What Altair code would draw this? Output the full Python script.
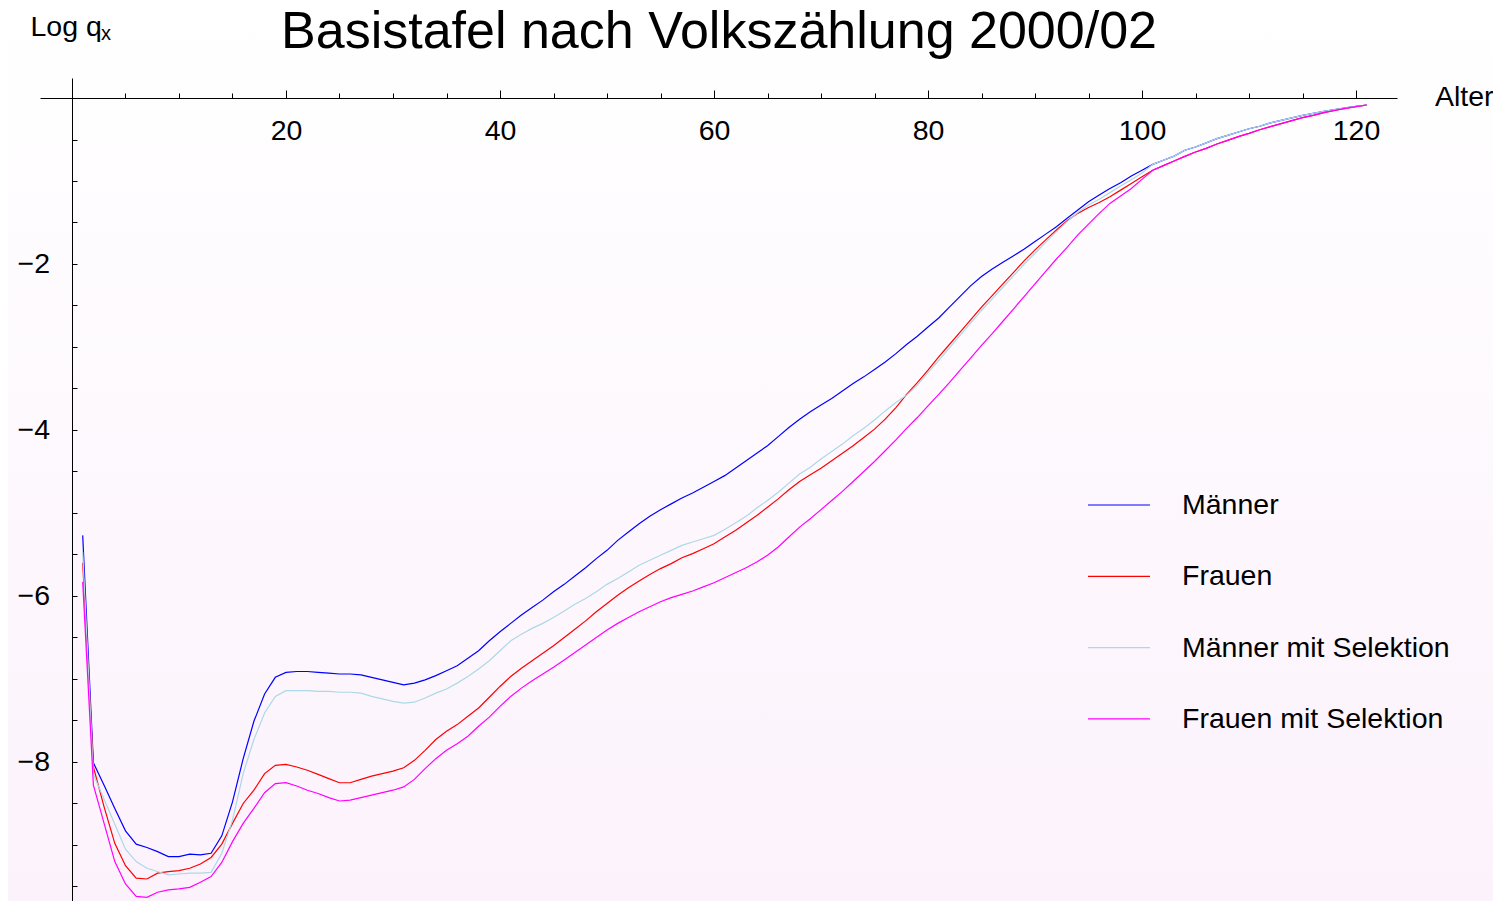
import altair as alt
import pandas as pd

chart_title = "Basistafel nach Volkszählung 2000/02"
x_title = "Alter"
y_title_main = "Log q"
y_title_sub = "x"

ages = list(range(1, 122))

maenner = [
    -5.27, -8.01, -8.28, -8.56, -8.83, -8.99, -9.03, -9.08, -9.14, -9.14,
    -9.11, -9.12, -9.10, -8.89, -8.48, -7.96, -7.51, -7.18, -6.98, -6.92,
    -6.91, -6.91, -6.92, -6.93, -6.94, -6.94, -6.95, -6.98, -7.01, -7.04,
    -7.07, -7.05, -7.01, -6.96, -6.90, -6.84, -6.75, -6.66, -6.54, -6.43,
    -6.33, -6.23, -6.14, -6.05, -5.95, -5.86, -5.76, -5.66, -5.55, -5.45,
    -5.33, -5.23, -5.13, -5.04, -4.96, -4.89, -4.82, -4.76, -4.69, -4.62,
    -4.55, -4.46, -4.37, -4.28, -4.19, -4.08, -3.97, -3.87, -3.78, -3.70,
    -3.62, -3.53, -3.44, -3.36, -3.27, -3.18, -3.08, -2.97, -2.87, -2.76,
    -2.65, -2.52, -2.39, -2.26, -2.15, -2.06, -1.98, -1.90, -1.82, -1.73,
    -1.64, -1.55, -1.45, -1.35, -1.25, -1.17, -1.09, -1.02, -0.94, -0.87,
    -0.80, -0.75, -0.70, -0.63, -0.59, -0.54, -0.49, -0.45, -0.41, -0.37,
    -0.34, -0.30, -0.27, -0.24, -0.21, -0.185, -0.16, -0.14, -0.12, -0.10,
    -0.084,
]

maenner_sel = [
    -5.47, -8.15, -8.45, -8.75, -9.05, -9.20, -9.28, -9.32, -9.36, -9.35,
    -9.34, -9.34, -9.33, -9.10, -8.70, -8.14, -7.73, -7.41, -7.21, -7.14,
    -7.14, -7.14, -7.15, -7.15, -7.16, -7.16, -7.17, -7.21, -7.24, -7.27,
    -7.29, -7.28, -7.23, -7.17, -7.12, -7.05, -6.97, -6.88, -6.78, -6.66,
    -6.54, -6.46, -6.39, -6.33, -6.26, -6.18, -6.10, -6.03, -5.95, -5.86,
    -5.79, -5.71, -5.63, -5.57, -5.51, -5.45, -5.39, -5.35, -5.31, -5.27,
    -5.20, -5.12, -5.04, -4.94, -4.85, -4.75, -4.64, -4.53, -4.45, -4.35,
    -4.26, -4.17, -4.07, -3.98, -3.88, -3.77, -3.67, -3.58, -3.46, -3.31,
    -3.16, -3.01, -2.86, -2.71, -2.56, -2.42, -2.28, -2.14, -2.00, -1.87,
    -1.74, -1.61, -1.49, -1.38, -1.29, -1.22, -1.14, -1.06, -0.985, -0.905,
    -0.80, -0.75, -0.70, -0.63, -0.59, -0.54, -0.49, -0.45, -0.41, -0.37,
    -0.34, -0.30, -0.27, -0.24, -0.21, -0.185, -0.16, -0.14, -0.12, -0.10,
    -0.084,
]

frauen = [
    -5.60, -8.06, -8.54, -8.98, -9.25, -9.40, -9.41, -9.34, -9.32, -9.31,
    -9.28, -9.23, -9.15, -8.99, -8.74, -8.50, -8.34, -8.14, -8.04, -8.03,
    -8.06, -8.10, -8.15, -8.20, -8.25, -8.25, -8.21, -8.17, -8.14, -8.11,
    -8.07, -7.98, -7.86, -7.73, -7.63, -7.55, -7.45, -7.35, -7.22, -7.09,
    -6.97, -6.87, -6.78, -6.69, -6.60, -6.50, -6.40, -6.30, -6.19, -6.09,
    -5.99, -5.90, -5.82, -5.74, -5.67, -5.61, -5.54, -5.49, -5.43, -5.37,
    -5.29, -5.21, -5.12, -5.03, -4.93, -4.83, -4.72, -4.62, -4.54, -4.46,
    -4.37, -4.28, -4.19, -4.09, -3.99, -3.87, -3.73, -3.57, -3.43, -3.28,
    -3.12, -2.97, -2.82, -2.67, -2.52, -2.38, -2.24, -2.10, -1.96, -1.83,
    -1.71, -1.59, -1.48, -1.39, -1.32, -1.26, -1.19, -1.11, -1.03, -0.95,
    -0.871, -0.815, -0.759, -0.703, -0.651, -0.607, -0.554, -0.510, -0.466, -0.426,
    -0.382, -0.345, -0.309, -0.273, -0.237, -0.209, -0.177, -0.149, -0.124, -0.104,
    -0.084,
]

frauen_sel = [
    -5.83, -8.28, -8.74, -9.20, -9.47, -9.62, -9.63, -9.57, -9.54, -9.53,
    -9.51, -9.45, -9.38, -9.21, -8.96, -8.74, -8.56, -8.37, -8.26, -8.25,
    -8.29, -8.34, -8.38, -8.43, -8.47, -8.46, -8.43, -8.40, -8.37, -8.34,
    -8.30, -8.21, -8.08, -7.96, -7.86, -7.78, -7.69, -7.57, -7.46, -7.33,
    -7.21, -7.11, -7.02, -6.94, -6.86, -6.77, -6.68, -6.59, -6.50, -6.41,
    -6.33, -6.26, -6.19, -6.13, -6.07, -6.02, -5.98, -5.94, -5.89, -5.84,
    -5.78, -5.72, -5.66, -5.59, -5.51, -5.41, -5.29, -5.17, -5.07, -4.96,
    -4.85, -4.74, -4.62, -4.50, -4.38, -4.25, -4.12, -3.98, -3.85, -3.71,
    -3.57, -3.43, -3.28, -3.13, -2.98, -2.84, -2.69, -2.54, -2.39, -2.24,
    -2.09, -1.94, -1.80, -1.65, -1.52, -1.39, -1.27, -1.18, -1.09, -0.98,
    -0.871, -0.815, -0.759, -0.703, -0.651, -0.607, -0.554, -0.510, -0.466, -0.426,
    -0.382, -0.345, -0.309, -0.273, -0.237, -0.209, -0.177, -0.149, -0.124, -0.104,
    -0.084,
]

series_names = ["Männer", "Frauen", "Männer mit Selektion", "Frauen mit Selektion"]
series_values = [maenner, frauen, maenner_sel, frauen_sel]
series_colors = ["#0000ff", "#ff0000", "#add8e6", "#ff00ff"]

x_tick_values = [5, 10, 15, 20, 25, 30, 35, 40, 45, 50, 55, 60, 65, 70, 75, 80,
                 85, 90, 95, 100, 105, 110, 115, 120]
y_tick_values = [-0.5, -1, -1.5, -2, -2.5, -3, -3.5, -4, -4.5, -5, -5.5, -6,
                 -6.5, -7, -7.5, -8, -8.5, -9, -9.5]

rows = []
for name, vals in zip(series_names, series_values):
    for a, v in zip(ages, vals):
        rows.append({"serie": name, "alter": a, "logq": v})
df = pd.DataFrame(rows)

FONT = "Liberation Sans"
FS = 28.5
W, H = 1357, 823

x_scale = alt.Scale(domain=[-2.99, 123.83], nice=False, zero=False)
y_scale = alt.Scale(domain=[-9.675, 0.241], nice=False, zero=False)

x_axis = alt.Axis(
    orient="top", offset=-20, values=x_tick_values, tickMinStep=0.1,
    labelExpr="datum.value % 20 === 0 ? format(datum.value, 'd') : ''",
    tickSize={"condition": {"test": "datum.value % 20 === 0", "value": 8}, "value": 5},
    tickColor="black", tickWidth=1, domainColor="black", domainWidth=1,
    labelFont=FONT, labelFontSize=FS, labelColor="black",
    labelBaseline="alphabetic", labelAlign="center", labelPadding=-49,
    labelFlush=False, labelOverlap=False, labelBound=False,
    grid=False, title=None, zindex=1,
)
y_axis = alt.Axis(
    orient="right", offset=-1325, values=y_tick_values, tickMinStep=0.1,
    labelExpr="datum.value % 2 === 0 ? format(datum.value, 'd') : ''",
    tickSize=5, tickColor="black", tickWidth=1, domainColor="black", domainWidth=1,
    labelFont=FONT, labelFontSize=FS, labelColor="black",
    labelAlign="right", labelBaseline="middle", labelPadding=-27.5,
    labelFlush=False, labelOverlap=False, labelBound=False,
    grid=False, title=None, zindex=1,
)

legend = alt.Legend(
    title=None, orient="none", legendX=1047, legendY=395,
    symbolType="stroke", symbolSize=3844, symbolStrokeWidth=1.2,
    labelFont=FONT, labelFontSize=FS, labelColor="black", labelOffset=31,
    rowPadding=24.3, labelLimit=0, padding=0, zindex=1,
)

bg_df = pd.DataFrame({"k": [0]})
background = alt.Chart(bg_df).mark_rect().encode(
    x=alt.value(-32), x2=alt.value(W + 96), y=alt.value(-70), y2=alt.value(H),
    color=alt.value({
        "gradient": "linear", "x1": 0, "y1": 0, "x2": 0, "y2": 1,
        "stops": [{"offset": 0, "color": "#ffffff"}, {"offset": 1, "color": "#fcf2fc"}],
    }),
)

lines = alt.Chart(df).mark_line(strokeWidth=1.2).encode(
    x=alt.X("alter:Q", scale=x_scale, axis=x_axis),
    y=alt.Y("logq:Q", scale=y_scale, axis=y_axis),
    color=alt.Color("serie:N", scale=alt.Scale(domain=series_names, range=series_colors),
                    legend=legend, sort=series_names),
    order="alter:Q",
)

title_text = alt.Chart(pd.DataFrame({"t": [chart_title]})).mark_text(
    font=FONT, fontSize=52, align="center", baseline="alphabetic", color="black"
).encode(text="t:N", x=alt.value(679), y=alt.value(-30))

xlab_text = alt.Chart(pd.DataFrame({"t": [x_title]})).mark_text(
    font=FONT, fontSize=FS, align="left", baseline="alphabetic", color="black"
).encode(text="t:N", x=alt.value(1395), y=alt.value(27.5))

ylab_text = alt.Chart(pd.DataFrame({"t": [y_title_main]})).mark_text(
    font=FONT, fontSize=FS, align="left", baseline="alphabetic", color="black"
).encode(text="t:N", x=alt.value(-9.5), y=alt.value(-42))

ysub_text = alt.Chart(pd.DataFrame({"t": [y_title_sub]})).mark_text(
    font=FONT, fontSize=20, align="left", baseline="alphabetic", color="black"
).encode(text="t:N", x=alt.value(61), y=alt.value(-38.5))

chart = alt.layer(background, lines, title_text, xlab_text, ylab_text, ysub_text).properties(
    width=W, height=H,
    autosize=alt.AutoSizeParams(type="none"),
    padding={"left": 32, "top": 70, "right": 96, "bottom": 0},
).configure_view(stroke=None).configure(background="#ffffff")

chart.save("out.html", embed_options={"renderer": "svg", "actions": False})
